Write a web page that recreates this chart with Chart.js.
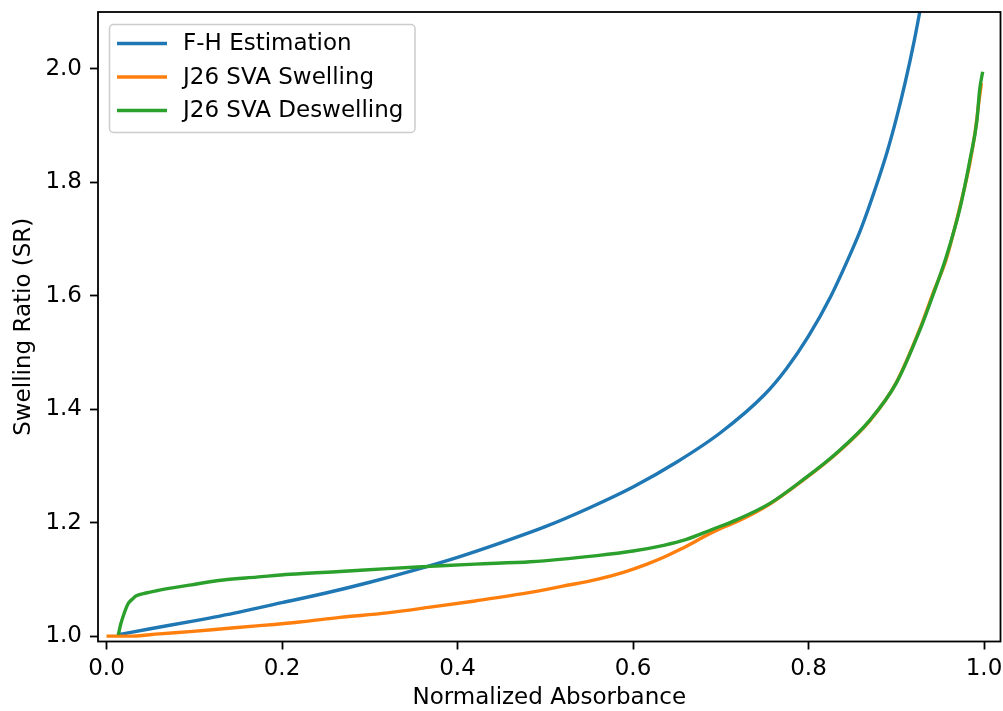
<!DOCTYPE html>
<html>
<head>
<meta charset="utf-8">
<title>Swelling Ratio vs Normalized Absorbance</title>
<script src="https://cdn.jsdelivr.net/npm/chart.js@4.4.1/dist/chart.umd.min.js"></script>
<style>
  html, body { margin: 0; padding: 0; background: #fff; }
  #wrap { width: 1003px; height: 711px; }
</style>
</head>
<body>
<div id="wrap"><canvas id="srChart" width="1003" height="711"></canvas></div>
<script>
// series data: normalized absorbance (x) vs swelling ratio (y)
const SERIES_NAMES = ['F-H Estimation', 'J26 SVA Swelling', 'J26 SVA Deswelling'];
const COLORS = ['#1f77b4', '#ff7f0e', '#2ca02c'];

const fhX = [0.012, 0.05, 0.10, 0.15, 0.20, 0.25, 0.30, 0.35, 0.40, 0.45, 0.50, 0.55, 0.60, 0.65, 0.70, 0.75, 0.775, 0.80, 0.825, 0.85, 0.86, 0.875, 0.89, 0.90, 0.91, 0.92, 0.93];
const fhY = [1.002, 1.013, 1.027, 1.042, 1.059, 1.076, 1.095, 1.116, 1.139, 1.165, 1.193, 1.226, 1.263, 1.307, 1.359, 1.426, 1.472, 1.529, 1.598, 1.682, 1.719, 1.784, 1.856, 1.912, 1.975, 2.046, 2.127];

const swellX = [0.0, 0.03, 0.06, 0.095, 0.133, 0.171, 0.22, 0.266, 0.32, 0.369, 0.42, 0.483, 0.52, 0.559, 0.59, 0.616, 0.635, 0.654, 0.67, 0.684, 0.70, 0.72, 0.756, 0.794, 0.832, 0.87, 0.90, 0.927, 0.942, 0.957, 0.973, 0.984, 0.99, 0.994, 0.997];
const swellY = [1.000, 1.000, 1.004, 1.008, 1.013, 1.018, 1.025, 1.033, 1.041, 1.051, 1.062, 1.077, 1.088, 1.100, 1.113, 1.127, 1.139, 1.153, 1.166, 1.178, 1.190, 1.203, 1.233, 1.275, 1.322, 1.380, 1.447, 1.542, 1.605, 1.665, 1.760, 1.835, 1.890, 1.940, 1.975];

const deswellX = [0.0135, 0.016, 0.019, 0.022, 0.025, 0.03, 0.034, 0.045, 0.057, 0.075, 0.095, 0.133, 0.171, 0.209, 0.266, 0.32, 0.369, 0.42, 0.483, 0.559, 0.60, 0.635, 0.66, 0.69, 0.718, 0.756, 0.794, 0.832, 0.87, 0.90, 0.927, 0.942, 0.957, 0.973, 0.984, 0.992, 0.995, 0.9985];
const deswellY = [1.002, 1.020, 1.035, 1.048, 1.058, 1.066, 1.071, 1.076, 1.080, 1.085, 1.090, 1.099, 1.104, 1.109, 1.114, 1.119, 1.123, 1.127, 1.131, 1.142, 1.150, 1.160, 1.170, 1.188, 1.205, 1.234, 1.276, 1.323, 1.381, 1.446, 1.540, 1.602, 1.669, 1.757, 1.840, 1.910, 1.963, 1.995];

const X_TICKS = [0.0, 0.2, 0.4, 0.6, 0.8, 1.0];
const Y_TICKS = [1.0, 1.2, 1.4, 1.6, 1.8, 2.0];

const FONT = "'DejaVu Sans', 'Liberation Sans', sans-serif";
const FONT_SIZE = 23;

function toPoints(xs, ys) { return xs.map((x, i) => ({ x: x, y: ys[i] })); }

function lineDataset(idx, xs, ys, order) {
  return {
    label: SERIES_NAMES[idx],
    data: toPoints(xs, ys),
    borderColor: COLORS[idx],
    backgroundColor: COLORS[idx],
    borderWidth: 3.4,
    pointRadius: 0,
    cubicInterpolationMode: 'monotone',
    fill: false,
    order: order
  };
}

// frame on all four sides + legend box in the upper left
const framePlugin = {
  id: 'frameAndLegend',
  afterDatasetsDraw(chart) {
    const { ctx, chartArea: a } = chart;
    ctx.save();
    ctx.strokeStyle = '#000';
    ctx.lineWidth = 1.8;
    ctx.strokeRect(a.left, a.top, a.right - a.left, a.bottom - a.top);

    // legend
    const bx = 109.5, by = 24.5, bw = 305.5, bh = 108;
    ctx.beginPath();
    ctx.roundRect(bx, by, bw, bh, 4);
    ctx.fillStyle = 'rgba(255,255,255,0.8)';
    ctx.fill();
    ctx.strokeStyle = '#cccccc';
    ctx.lineWidth = 1.5;
    ctx.stroke();

    ctx.font = FONT_SIZE + 'px ' + FONT;
    ctx.textBaseline = 'middle';
    ctx.textAlign = 'left';
    SERIES_NAMES.forEach((name, i) => {
      const y = 43.5 + i * 33.5;
      ctx.beginPath();
      ctx.moveTo(117, y);
      ctx.lineTo(167, y);
      ctx.strokeStyle = COLORS[i];
      ctx.lineWidth = 3.4;
      ctx.stroke();
      ctx.fillStyle = '#000';
      ctx.fillText(name, 183, y + 1);
    });
    ctx.restore();
  }
};

// no extra room for end tick labels, the plot box is fixed
function fixX(s) { s.height = 69.5; s.paddingLeft = 0; s.paddingRight = 0; }
function fixY(s) { s.width = 98; s.paddingTop = 0; s.paddingBottom = 0; }

const ctx = document.getElementById('srChart');
new Chart(ctx, {
  type: 'line',
  data: {
    datasets: [
      lineDataset(0, fhX, fhY, 2),
      lineDataset(1, swellX, swellY, 1),
      lineDataset(2, deswellX, deswellY, 0)
    ]
  },
  options: {
    responsive: false,
    animation: false,
    devicePixelRatio: 1,
    layout: { padding: { top: 12, right: 2.5, bottom: 0, left: 0 } },
    plugins: {
      legend: { display: false },
      tooltip: { enabled: false }
    },
    scales: {
      x: {
        type: 'linear',
        min: -0.0097,
        max: 1.0188,
        afterFit: fixX,
        afterBuildTicks: s => { s.ticks = X_TICKS.map(v => ({ value: v })); },
        grid: { display: true, drawOnChartArea: false, drawTicks: true, tickLength: 8, tickWidth: 1.8, tickColor: '#000' },
        border: { display: false },
        ticks: {
          padding: 5.5, color: '#000', maxRotation: 0, autoSkip: false,
          font: { family: FONT, size: FONT_SIZE },
          callback: v => Number(v).toFixed(1)
        },
        title: {
          display: true, text: 'Normalized Absorbance', color: '#000',
          font: { family: FONT, size: FONT_SIZE, lineHeight: 1 },
          padding: { top: 0, bottom: 1 }
        }
      },
      y: {
        type: 'linear',
        min: 0.9905,
        max: 2.1005,
        afterFit: fixY,
        afterBuildTicks: s => { s.ticks = Y_TICKS.map(v => ({ value: v })); },
        grid: { display: true, drawOnChartArea: false, drawTicks: true, tickLength: 8, tickWidth: 1.8, tickColor: '#000' },
        border: { display: false },
        ticks: {
          padding: 8, color: '#000', autoSkip: false,
          font: { family: FONT, size: FONT_SIZE },
          callback: v => Number(v).toFixed(1)
        },
        title: {
          display: true, text: 'Swelling Ratio (SR)', color: '#000',
          font: { family: FONT, size: FONT_SIZE, lineHeight: 1 },
          padding: { top: 12.5, bottom: 0 }
        }
      }
    }
  },
  plugins: [framePlugin]
});
</script>
</body>
</html>
